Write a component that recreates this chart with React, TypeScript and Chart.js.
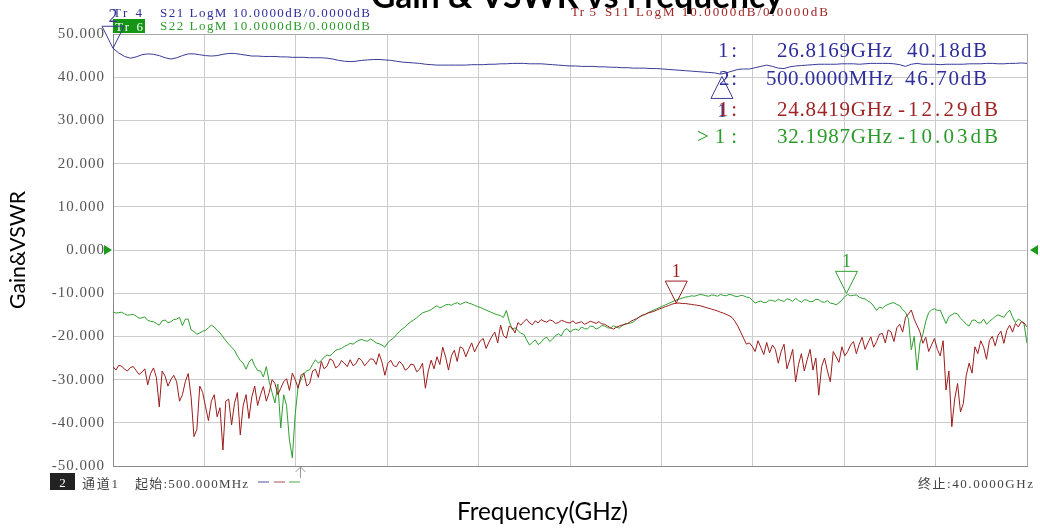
import { useEffect, useRef } from "react";
import { Chart, registerables } from "chart.js";

Chart.register(...registerables);

// ---------- data ----------
// S21 sweep points (GHz)
const FREQ_GHZ = [
  0.5, 0.75, 1, 1.25, 1.5, 1.75, 2, 2.25, 2.5, 2.75, 3, 3.25, 3.5, 3.75, 4, 4.25, 4.5, 4.75, 5, 5.25,
  5.5, 5.75, 6, 6.25, 6.5, 6.75, 7, 7.25, 7.5, 7.75, 8, 8.25, 8.5, 8.75, 9, 9.25, 9.5, 9.75, 10, 10.25,
  10.5, 10.75, 11, 11.25, 11.5, 11.75, 12, 12.25, 12.5, 12.75, 13, 13.25, 13.5, 13.75, 14, 14.25, 14.5, 14.75, 15, 15.25,
  15.5, 15.75, 16, 16.25, 16.5, 16.75, 17, 17.25, 17.5, 17.75, 18, 18.25, 18.5, 18.75, 19, 19.25, 19.5, 19.75, 20, 20.25,
  20.5, 20.75, 21, 21.25, 21.5, 21.75, 22, 22.25, 22.5, 22.75, 23, 23.25, 23.5, 23.75, 24, 24.25, 24.5, 24.75, 25, 25.25,
  25.5, 25.75, 26, 26.25, 26.5, 26.75, 27, 27.25, 27.5, 27.75, 28, 28.25, 28.5, 28.75, 29, 29.25, 29.5, 29.75, 30, 30.25,
  30.5, 30.75, 31, 31.25, 31.5, 31.75, 32, 32.25, 32.5, 32.75, 33, 33.25, 33.5, 33.75, 34, 34.25, 34.5, 34.75, 35, 35.25,
  35.5, 35.75, 36, 36.25, 36.5, 36.75, 37, 37.25, 37.5, 37.75, 38, 38.25, 38.5, 38.75, 39, 39.25, 39.5, 39.75, 40,
];

// S11 / S22 sweep points (GHz)
const FREQ_FINE_GHZ = [
  0.5, 0.625, 0.75, 0.875, 1, 1.125, 1.25, 1.375, 1.5, 1.625, 1.75, 1.875, 2, 2.125, 2.25, 2.375,
  2.5, 2.625, 2.75, 2.875, 3, 3.125, 3.25, 3.375, 3.5, 3.625, 3.75, 3.875, 4, 4.125, 4.25, 4.375,
  4.5, 4.625, 4.75, 4.875, 5, 5.125, 5.25, 5.375, 5.5, 5.625, 5.75, 5.875, 6, 6.125, 6.25, 6.375,
  6.5, 6.625, 6.75, 6.875, 7, 7.125, 7.25, 7.375, 7.5, 7.625, 7.75, 7.875, 8, 8.125, 8.25, 8.375,
  8.5, 8.625, 8.75, 8.875, 9, 9.125, 9.25, 9.375, 9.5, 9.625, 9.75, 9.875, 10, 10.125, 10.25, 10.375,
  10.5, 10.625, 10.75, 10.875, 11, 11.125, 11.25, 11.375, 11.5, 11.625, 11.75, 11.875, 12, 12.125, 12.25, 12.375,
  12.5, 12.625, 12.75, 12.875, 13, 13.125, 13.25, 13.375, 13.5, 13.625, 13.75, 13.875, 14, 14.125, 14.25, 14.375,
  14.5, 14.625, 14.75, 14.875, 15, 15.125, 15.25, 15.375, 15.5, 15.625, 15.75, 15.875, 16, 16.125, 16.25, 16.375,
  16.5, 16.625, 16.75, 16.875, 17, 17.125, 17.25, 17.375, 17.5, 17.625, 17.75, 17.875, 18, 18.125, 18.25, 18.375,
  18.5, 18.625, 18.75, 18.875, 19, 19.125, 19.25, 19.375, 19.5, 19.625, 19.75, 19.875, 20, 20.125, 20.25, 20.375,
  20.5, 20.625, 20.75, 20.875, 21, 21.125, 21.25, 21.375, 21.5, 21.625, 21.75, 21.875, 22, 22.125, 22.25, 22.375,
  22.5, 22.625, 22.75, 22.875, 23, 23.125, 23.25, 23.375, 23.5, 23.625, 23.75, 23.875, 24, 24.125, 24.25, 24.375,
  24.5, 24.625, 24.75, 24.875, 25, 25.125, 25.25, 25.375, 25.5, 25.625, 25.75, 25.875, 26, 26.125, 26.25, 26.375,
  26.5, 26.625, 26.75, 26.875, 27, 27.125, 27.25, 27.375, 27.5, 27.625, 27.75, 27.875, 28, 28.125, 28.25, 28.375,
  28.5, 28.625, 28.75, 28.875, 29, 29.125, 29.25, 29.375, 29.5, 29.625, 29.75, 29.875, 30, 30.125, 30.25, 30.375,
  30.5, 30.625, 30.75, 30.875, 31, 31.125, 31.25, 31.375, 31.5, 31.625, 31.75, 31.875, 32, 32.125, 32.25, 32.375,
  32.5, 32.625, 32.75, 32.875, 33, 33.125, 33.25, 33.375, 33.5, 33.625, 33.75, 33.875, 34, 34.125, 34.25, 34.375,
  34.5, 34.625, 34.75, 34.875, 35, 35.125, 35.25, 35.375, 35.5, 35.625, 35.75, 35.875, 36, 36.125, 36.25, 36.375,
  36.5, 36.625, 36.75, 36.875, 37, 37.125, 37.25, 37.375, 37.5, 37.625, 37.75, 37.875, 38, 38.125, 38.25, 38.375,
  38.5, 38.625, 38.75, 38.875, 39, 39.125, 39.25, 39.375, 39.5, 39.625, 39.75, 39.875, 40,
];

const S21_DB = [
  46.7, 45.6, 44.8, 44.4, 44.7, 45.2, 45.4, 45.3, 45.0, 44.5, 44.2, 44.5, 45.0, 45.4, 45.4, 45.2, 45.0, 44.9, 45.0, 45.3,
  45.5, 45.5, 45.3, 45.1, 44.9, 44.9, 44.8, 44.8, 44.8, 44.7, 44.7, 44.6, 44.6, 44.6, 44.5, 44.5, 44.5, 44.4, 44.2, 43.9,
  43.7, 43.6, 43.7, 43.9, 44.0, 44.1, 44.1, 44.0, 43.9, 43.7, 43.5, 43.4, 43.3, 43.2, 43.0, 42.9, 42.8, 42.8, 42.8, 42.8,
  42.8, 42.8, 42.9, 42.9, 42.9, 43.0, 43.0, 43.1, 43.1, 43.2, 43.2, 43.2, 43.1, 43.1, 43.1, 43.0, 42.9, 42.8, 42.7, 42.6,
  42.6, 42.5, 42.5, 42.5, 42.4, 42.4, 42.3, 42.3, 42.2, 42.2, 42.1, 42.1, 42.1, 42.0, 42.0, 41.9, 41.8, 41.7, 41.6, 41.5,
  41.4, 41.3, 41.2, 41.1, 41.0, 40.7, 41.0, 41.4, 41.8, 41.9, 41.9, 42.2, 42.5, 42.8, 42.5, 42.1, 42.0, 42.4, 42.6, 42.7,
  42.8, 42.9, 43.0, 43.0, 43.0, 43.0, 43.1, 43.1, 43.1, 43.0, 43.1, 43.2, 43.2, 43.2, 43.2, 43.1, 42.9, 42.5, 43.0, 43.2,
  43.0, 43.0, 43.0, 42.9, 43.0, 43.0, 43.0, 43.0, 43.1, 43.1, 43.1, 43.2, 43.2, 43.1, 43.1, 43.2, 43.2, 43.3, 43.2,
];

const S11_DB = [
  -27.0, -27.8, -26.7, -26.9, -27.6, -28.0, -27.2, -27.0, -27.9, -28.8, -28.3, -27.5, -31.2, -28.6, -27.3, -29.5,
  -36.3, -28.0, -29.2, -31.5, -30.0, -29.0, -30.5, -35.0, -33.5, -30.5, -28.6, -34.0, -43.2, -41.5, -31.5, -33.0,
  -36.3, -39.5, -35.0, -33.5, -38.6, -36.5, -46.3, -35.0, -34.5, -40.5, -35.5, -33.0, -42.8, -36.0, -33.5, -39.0,
  -34.0, -31.5, -36.0, -33.5, -31.6, -35.0, -33.0, -30.0, -30.9, -33.5, -32.0, -30.5, -29.8, -32.5, -28.5, -30.0,
  -32.0, -29.0, -28.5, -31.5, -30.9, -28.0, -27.6, -29.5, -25.8, -27.5, -26.9, -25.2, -25.6, -27.3, -26.8, -25.6,
  -26.2, -27.0, -25.4, -26.8, -26.3, -25.0, -25.6, -26.8, -26.0, -25.2, -25.3, -26.5, -24.0, -26.0, -29.0, -26.3,
  -25.5, -26.8, -27.0, -25.8, -26.4, -27.8, -27.4, -26.4, -26.6, -28.2, -27.6, -26.2, -32.0, -28.0, -25.5, -27.5,
  -24.7, -26.5, -22.5, -24.8, -27.8, -24.5, -23.2, -25.8, -22.4, -22.8, -24.7, -23.0, -21.5, -23.6, -22.2, -21.0,
  -20.5, -22.8, -21.3, -20.0, -19.0, -21.5, -17.4, -19.8, -20.4, -17.6, -18.0, -19.2, -16.8, -17.4, -16.6, -16.0,
  -16.9, -17.3, -16.4, -16.9, -16.1, -16.5, -16.7, -16.2, -16.4, -17.0, -16.8, -16.3, -16.5, -16.8, -16.9, -16.4,
  -17.0, -16.8, -16.6, -17.2, -16.9, -16.5, -16.7, -17.0, -16.6, -17.1, -17.2, -17.6, -18.0, -18.3, -17.9, -17.6,
  -17.4, -17.2, -17.0, -16.5, -16.2, -15.9, -15.5, -15.1, -14.9, -14.6, -14.4, -14.2, -13.9, -13.6, -13.4, -13.1,
  -12.9, -12.6, -12.4, -12.3, -12.3, -12.4, -12.4, -12.5, -12.6, -12.7, -12.8, -12.9, -13.1, -13.3, -13.5, -13.7,
  -13.9, -14.1, -14.4, -14.6, -14.9, -15.2, -15.6, -16.5, -17.6, -19.0, -20.4, -21.8, -21.5, -22.3, -23.5, -21.0,
  -22.6, -24.2, -21.4, -23.8, -22.0, -23.0, -26.2, -23.5, -21.8, -27.5, -25.4, -23.0, -30.5, -26.5, -24.0, -28.0,
  -25.4, -23.0, -27.8, -25.0, -33.6, -27.0, -25.0, -28.0, -30.5, -23.5, -24.7, -26.0, -22.4, -24.5, -23.5, -22.0,
  -21.2, -24.0, -21.8, -20.2, -23.0, -21.5, -20.1, -22.5, -21.2, -19.5, -19.3, -21.5, -18.5, -19.0, -21.2, -18.0,
  -17.2, -19.0, -15.6, -14.8, -13.9, -16.0, -17.5, -19.0, -21.6, -20.2, -23.5, -22.0, -20.5, -23.0, -24.5, -21.0,
  -32.4, -28.0, -40.9, -34.5, -30.9, -37.5, -35.5, -29.0, -26.2, -28.5, -22.4, -24.0, -21.0, -22.5, -25.3, -21.0,
  -20.0, -22.2, -19.7, -18.8, -21.6, -18.6, -17.4, -19.0, -17.0, -17.8, -16.6, -16.9, -17.8,
];

const S22_DB = [
  -14.3, -14.6, -14.5, -14.4, -14.8, -15.1, -15.0, -14.9, -15.3, -15.8, -15.7, -15.5, -16.3, -16.5, -16.6, -17.0,
  -17.4, -16.4, -16.2, -16.8, -16.6, -16.1, -16.0, -15.6, -17.5, -16.0, -16.0, -18.5, -18.9, -19.5, -19.2, -18.8,
  -18.6, -18.0, -17.4, -17.8, -18.6, -19.2, -20.1, -21.0, -21.8, -22.5, -23.2, -24.5, -25.6, -26.2, -27.6, -26.0,
  -25.2, -26.8, -27.9, -28.0, -29.4, -27.0, -30.5, -33.0, -35.4, -31.0, -41.2, -33.5, -36.0, -44.0, -48.1, -38.0,
  -31.6, -30.0, -28.6, -28.0, -27.7, -26.5, -25.4, -26.2, -25.6, -24.8, -24.3, -24.5, -23.9, -23.2, -23.0, -22.8,
  -22.3, -22.0, -21.6, -21.8, -21.3, -20.9, -20.7, -21.0, -21.1, -20.6, -21.0, -21.5, -21.7, -22.0, -22.5, -21.5,
  -20.8, -20.4, -19.6, -18.9, -18.3, -17.8, -17.1, -16.6, -16.2, -15.7, -15.1, -14.6, -14.3, -14.1, -13.8, -13.3,
  -12.9, -13.4, -13.1, -12.7, -12.6, -12.8, -12.4, -12.2, -12.6, -12.3, -12.0, -12.3, -12.5, -12.8, -13.1, -13.3,
  -13.6, -13.9, -14.2, -14.5, -14.8, -15.0, -15.2, -15.6, -14.0, -16.5, -18.4, -18.0, -18.6, -19.3, -19.5, -20.8,
  -22.0, -21.4, -20.8, -21.9, -21.4, -20.5, -20.2, -21.2, -20.6, -19.8, -19.4, -19.9, -18.6, -18.2, -19.0, -18.5,
  -18.3, -18.6, -17.8, -18.2, -18.3, -17.6, -17.7, -18.3, -18.0, -17.5, -17.6, -18.0, -18.1, -17.5, -17.8, -18.1,
  -17.5, -17.1, -17.0, -16.9, -16.6, -16.0, -15.5, -15.2, -14.9, -14.5, -14.2, -13.9, -13.6, -13.3, -13.0, -12.7,
  -12.4, -12.1, -11.8, -11.5, -11.3, -11.1, -10.9, -10.8, -10.6, -10.7, -10.5, -10.3, -10.4, -10.6, -10.7, -10.4,
  -10.5, -10.7, -10.3, -10.5, -10.6, -10.3, -10.4, -10.7, -10.8, -10.5, -10.6, -10.9, -11.0, -11.6, -12.3, -12.0,
  -11.8, -12.2, -12.1, -11.6, -11.7, -11.9, -11.4, -11.7, -11.9, -11.3, -11.5, -11.9, -11.2, -11.7, -12.1, -11.5,
  -11.6, -12.0, -11.9, -11.4, -11.5, -12.0, -12.1, -11.7, -12.3, -12.4, -12.7, -12.2, -11.6, -10.8, -10.3, -10.6,
  -10.5, -10.4, -10.9, -11.2, -11.3, -11.8, -12.2, -13.0, -14.0, -13.2, -13.5, -12.9, -12.6, -12.3, -12.2, -12.6,
  -12.9, -13.8, -14.4, -16.0, -23.1, -20.0, -27.8, -21.5, -19.5, -16.5, -14.5, -13.9, -13.6, -14.0, -13.9, -15.5,
  -17.0, -15.4, -15.0, -14.6, -14.8, -15.8, -16.4, -17.2, -17.6, -16.3, -16.2, -16.8, -16.9, -16.0, -17.2, -16.5,
  -16.0, -15.4, -15.0, -15.3, -15.6, -14.6, -13.9, -15.5, -16.8, -16.0, -16.4, -17.2, -21.6,
];

const X_GRID_GHZ = [0.5, 4.45, 8.4, 12.35, 16.3, 20.25, 24.2, 28.15, 32.1, 36.05, 40];
const Y_TICKS = [50, 40, 30, 20, 10, 0, -10, -20, -30, -40, -50];
const Y_TICK_LABELS = ["50.000", "40.000", "30.000", "20.000", "10.000", "0.000", "-10.000", "-20.000", "-30.000", "-40.000", "-50.000"];

// markers: trace index (0 = S21, 1 = S11, 2 = S22)
const MARKER_TRACE = [0, 0, 1, 2];
const MARKER_NAME = ["1", "2", "1", "1"];
const MARKER_FREQ = [26.8169, 0.5, 24.8419, 32.1987];
const MARKER_VALUE = [40.18, 46.7, -12.29, -10.03];
const READ_ID = ["1:", "2:", "1:", ">1:"];
const READ_FREQ = ["26.8169GHz", "500.0000MHz", "24.8419GHz", "32.1987GHz"];
const READ_VAL = ["40.18dB", "46.70dB", "-12.29dB", "-10.03dB"];

const TITLE = "Gain & VSWR vs Frequency";
const X_TITLE = "Frequency(GHz)";
const Y_TITLE = "Gain&VSWR";

// ---------- style ----------
const TRACE_COLORS = ["#3a3a98", "#9c1c1c", "#2e9e2e"];
const TEXT_COLORS = ["#2e2e9c", "#a02424", "#2a9a2a"];
const SERIF = '"Liberation Serif", "Noto Sans CJK SC", serif';

function txt(ctx: any, s: string, x: number, y: number, font: string, color: string, width?: number, align: string = "left") {
  ctx.save();
  ctx.font = font;
  ctx.fillStyle = color;
  ctx.textAlign = "left";
  ctx.textBaseline = "alphabetic";
  ctx.letterSpacing = "0px";
  let w = ctx.measureText(s).width;
  const n = Array.from(s).length;
  if (width !== undefined && n > 1) {
    ctx.letterSpacing = (width - w) / (n - 1) + "px";
    w = width;
  }
  let sx = x;
  if (align === "center") sx = x - w / 2;
  else if (align === "right") sx = x - w;
  ctx.fillText(s, sx, y);
  ctx.restore();
}

function fitFont(ctx: any, s: string, weight: string, family: string, width: number) {
  ctx.save();
  ctx.letterSpacing = "0px";
  ctx.font = `${weight} 100px ${family}`;
  const w = ctx.measureText(s).width;
  ctx.restore();
  return `${weight} ${((100 * width) / w).toFixed(2)}px ${family}`;
}

const overlay = {
  id: "vnaOverlay",
  beforeDraw(chart: any) {
    chart.ctx.letterSpacing = "1px";
  },
  beforeDatasetsDraw(chart: any) {
    const { ctx, chartArea: a } = chart;
    ctx.save();
    ctx.lineWidth = 1;
    ctx.strokeStyle = "#a8a8a8";
    ctx.strokeRect(Math.round(a.left) + 0.5, Math.round(a.top) + 0.5, Math.round(a.right - a.left), Math.round(a.bottom - a.top));
    ctx.strokeStyle = "#8a8a8a";
    ctx.beginPath();
    ctx.moveTo(Math.round(a.left) + 0.5, Math.round(a.top));
    ctx.lineTo(Math.round(a.left) + 0.5, Math.round(a.bottom) + 0.5);
    ctx.lineTo(Math.round(a.right) + 1, Math.round(a.bottom) + 0.5);
    ctx.stroke();
    ctx.restore();
  },
  afterDraw(chart: any) {
    const ctx = chart.ctx;
    const xs = chart.scales.x;
    const ys = chart.scales.y;
    ctx.save();
    ctx.letterSpacing = "0px";

    // reference level triangles at 0 dB
    const y0 = ys.getPixelForValue(0);
    ctx.fillStyle = "#1c9a1c";
    ctx.beginPath();
    ctx.moveTo(104, y0 - 5);
    ctx.lineTo(112, y0);
    ctx.lineTo(104, y0 + 5);
    ctx.closePath();
    ctx.fill();
    ctx.beginPath();
    ctx.moveTo(1038, y0 - 5);
    ctx.lineTo(1030, y0);
    ctx.lineTo(1038, y0 + 5);
    ctx.closePath();
    ctx.fill();

    // header lines
    const hdr = `13px ${SERIF}`;
    txt(ctx, "Tr 4", 113, 17, hdr, TEXT_COLORS[0], 29);
    txt(ctx, "S21 LogM 10.0000dB/0.0000dB", 160, 17, hdr, TEXT_COLORS[0], 210);
    ctx.fillStyle = "#149614";
    ctx.fillRect(113, 19, 32, 14);
    txt(ctx, "Tr 6", 115, 31, hdr, "#ffffff", 28);
    txt(ctx, "S22 LogM 10.0000dB/0.0000dB", 160, 30, hdr, TEXT_COLORS[2], 210);
    txt(ctx, "Tr 5", 571, 16, hdr, TEXT_COLORS[1], 25);
    txt(ctx, "S11 LogM 10.0000dB/0.0000dB", 605, 16, hdr, TEXT_COLORS[1], 223);

    // markers
    const mkLabel = `18px ${SERIF}`;
    for (let i = 0; i < MARKER_FREQ.length; i++) {
      const ax = xs.getPixelForValue(MARKER_FREQ[i]);
      const ay = ys.getPixelForValue(MARKER_VALUE[i]);
      const col = TRACE_COLORS[MARKER_TRACE[i]];
      const up = i === 0;
      const w = 22;
      const h = 22;
      const dir = up ? -1 : 1;
      ctx.beginPath();
      ctx.moveTo(ax, ay);
      ctx.lineTo(ax - w / 2, ay - dir * h);
      ctx.lineTo(ax + w / 2, ay - dir * h);
      ctx.closePath();
      ctx.strokeStyle = col;
      ctx.lineWidth = 1;
      ctx.stroke();
      const ly = up ? ay + h + 19 : ay - h - 4;
      txt(ctx, MARKER_NAME[i], ax, ly, mkLabel, col, undefined, "center");
    }

    // marker readout
    const rd = `21px ${SERIF}`;
    const rdBase = [57, 85, 116, 143];
    const idX = [718, 719, 718, 697];
    const idW = [19, 18, 19, 40];
    const fX = [777, 766, 777, 777];
    const fW = [115, 127, 115, 115];
    const vX = [907, 905, 898, 898];
    const vW = [80, 82, 100, 100];
    for (let i = 0; i < READ_ID.length; i++) {
      const col = TEXT_COLORS[MARKER_TRACE[i]];
      txt(ctx, READ_ID[i], idX[i], rdBase[i], rd, col, idW[i]);
      txt(ctx, READ_FREQ[i], fX[i], rdBase[i], rd, col, fW[i]);
      txt(ctx, READ_VAL[i], vX[i], rdBase[i], rd, col, vW[i]);
    }

    // bottom status line
    ctx.fillStyle = "#222222";
    ctx.fillRect(50, 473, 25, 17);
    txt(ctx, "2", 62.5, 487, `13px ${SERIF}`, "#ffffff", undefined, "center");
    const st = `13px ${SERIF}`;
    txt(ctx, "通道1", 82, 488, st, "#444444", 36);
    txt(ctx, "起始:500.000MHz", 135, 488, st, "#444444", 113);
    txt(ctx, "终止:40.0000GHz", 918, 488, st, "#444444", 115);
    const dashCols = ["#8a8ac4", "#c48a8a", "#8ac48a"];
    const dashX = [258, 274, 289];
    ctx.lineWidth = 1.5;
    for (let i = 0; i < 3; i++) {
      ctx.strokeStyle = dashCols[i];
      ctx.beginPath();
      ctx.moveTo(dashX[i], 482);
      ctx.lineTo(dashX[i] + 11, 482);
      ctx.stroke();
    }
    ctx.strokeStyle = "#9a9a9a";
    ctx.lineWidth = 1;
    ctx.beginPath();
    ctx.moveTo(300.5, 467);
    ctx.lineTo(300.5, 478);
    ctx.moveTo(295.5, 472);
    ctx.lineTo(300.5, 467);
    ctx.lineTo(305.5, 472);
    ctx.stroke();

    // titles
    txt(ctx, TITLE, 371, 8, fitFont(ctx, TITLE, "bold", "Lato", 412), "#000000");
    txt(ctx, X_TITLE, 457, 520, fitFont(ctx, X_TITLE, "normal", "Lato", 171), "#000000");
    ctx.save();
    ctx.translate(18, 250);
    ctx.rotate(-Math.PI / 2);
    ctx.font = fitFont(ctx, Y_TITLE, "normal", "Lato", 118);
    ctx.fillStyle = "#000000";
    ctx.textAlign = "center";
    ctx.textBaseline = "middle";
    ctx.fillText(Y_TITLE, 0, 0);
    ctx.restore();

    ctx.restore();
  },
};

export default function App() {
  const ref = useRef<HTMLCanvasElement>(null);
  useEffect(() => {
    const canvas = ref.current!;
    const pts = (fs: number[], vals: number[]) => fs.map((f, i) => ({ x: f, y: vals[i] }));
    const chart = new Chart(canvas, {
      type: "line",
      data: {
        datasets: [
          { label: "S21", data: pts(FREQ_GHZ, S21_DB), borderColor: TRACE_COLORS[0], borderWidth: 1, pointRadius: 0, tension: 0 },
          { label: "S11", data: pts(FREQ_FINE_GHZ, S11_DB), borderColor: TRACE_COLORS[1], borderWidth: 1, pointRadius: 0, tension: 0 },
          { label: "S22", data: pts(FREQ_FINE_GHZ, S22_DB), borderColor: TRACE_COLORS[2], borderWidth: 1, pointRadius: 0, tension: 0 },
        ],
      },
      options: {
        animation: false,
        responsive: false,
        devicePixelRatio: 1,
        layout: { padding: { left: 0, top: 34, right: 13, bottom: 63 } },
        plugins: { legend: { display: false }, tooltip: { enabled: false }, title: { display: false } },
        scales: {
          x: {
            type: "linear",
            min: 0.5,
            max: 40,
            afterBuildTicks: (s: any) => {
              s.ticks = X_GRID_GHZ.map((v) => ({ value: v }));
            },
            afterFit: (s: any) => {
              s.height = 0;
            },
            ticks: { display: false },
            grid: { color: "#cccccc", lineWidth: 1, drawTicks: false },
            border: { display: false },
          },
          y: {
            type: "linear",
            min: -50,
            max: 50,
            afterBuildTicks: (s: any) => {
              s.ticks = Y_TICKS.map((v) => ({ value: v }));
            },
            afterFit: (s: any) => {
              s.width = 113;
            },
            ticks: {
              callback: (v: any) => {
                const k = Y_TICKS.indexOf(Number(v));
                return k >= 0 ? Y_TICK_LABELS[k] : "";
              },
              font: { family: "Liberation Serif", size: 15 },
              color: "#555555",
              padding: 8,
            },
            grid: { color: "#cccccc", lineWidth: 1, drawTicks: false },
            border: { display: false },
          },
        },
      } as any,
      plugins: [overlay],
    });
    return () => chart.destroy();
  }, []);
  return (
    <div style={{ position: "fixed", left: 0, top: 0, width: 1040, height: 529, background: "#ffffff" }}>
      <canvas ref={ref} width={1040} height={529} style={{ display: "block", width: 1040, height: 529 }} />
    </div>
  );
}
